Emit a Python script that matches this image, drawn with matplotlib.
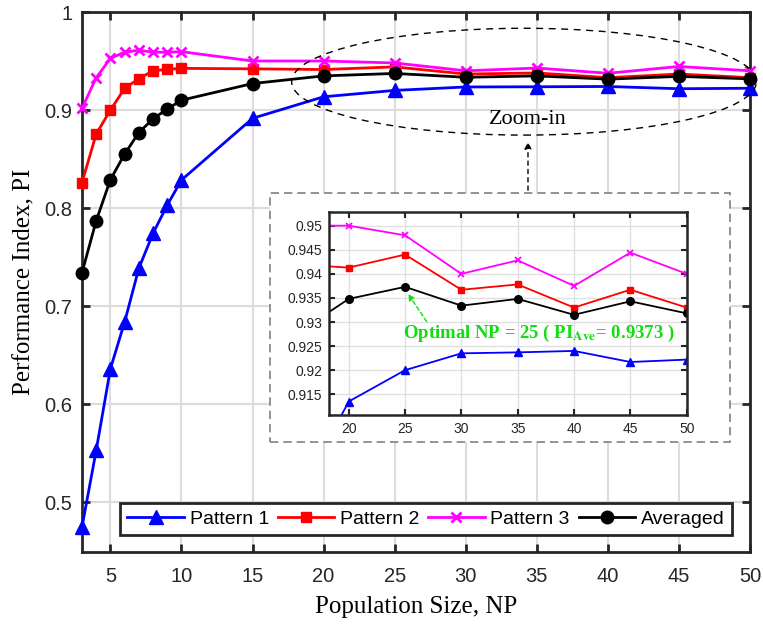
import matplotlib
matplotlib.use('Agg')
import matplotlib.pyplot as plt
from matplotlib.patches import Ellipse, Rectangle
from matplotlib.ticker import FuncFormatter

plt.rcParams['font.family'] = 'Liberation Sans'
plt.rcParams['mathtext.fontset'] = 'stix'

# data
np_sizes = [3, 4, 5, 6, 7, 8, 9, 10, 15, 20, 25, 30, 35, 40, 45, 50]
pattern1 = [0.4745, 0.5528, 0.636, 0.6837, 0.7385, 0.7742, 0.803, 0.8286, 0.8915,
            0.9135, 0.9200, 0.9235, 0.9237, 0.9240, 0.9217, 0.9222]
pattern2 = [0.826, 0.8755, 0.900, 0.922, 0.932, 0.940, 0.9415, 0.9425, 0.9420,
            0.9413, 0.9440, 0.9367, 0.9378, 0.9330, 0.9367, 0.9330]
pattern3 = [0.9017, 0.933, 0.9527, 0.959, 0.961, 0.959, 0.959, 0.9595, 0.9500,
            0.9500, 0.9480, 0.9400, 0.9428, 0.9375, 0.9444, 0.9400]
averaged = [0.734, 0.787, 0.829, 0.855, 0.877, 0.891, 0.901, 0.910, 0.927,
            0.9348, 0.9373, 0.9334, 0.9348, 0.9315, 0.9343, 0.9318]

labels = ['Pattern 1', 'Pattern 2', 'Pattern 3', 'Averaged']
series = [pattern1, pattern2, pattern3, averaged]
colors = ['#0000ff', '#ff0000', '#ff00ff', '#000000']
markers = ['^', 's', 'x', 'o']
big_sizes = [10, 7, 7, 9]
small_sizes = [6, 4.5, 4, 5.5]

fig = plt.figure(figsize=(7.63, 6.24), dpi=100)
ax = fig.add_axes([82 / 763, 1 - 552 / 624, 668 / 763, 540 / 624])

for y, lab, c, m, ms in zip(series, labels, colors, markers, big_sizes):
    ax.plot(np_sizes, y, color=c, marker=m, markersize=ms, linewidth=2,
            markeredgewidth=2 if m == 'x' else 1, label=lab, clip_on=False, zorder=3)

ax.set_xlim(3, 50)
ax.set_ylim(0.449, 1)
ax.set_xticks(range(5, 51, 5))
ax.set_yticks([0.5, 0.6, 0.7, 0.8, 0.9, 1.0])
ax.yaxis.set_major_formatter(FuncFormatter(lambda v, p: '%g' % round(v, 3)))
ax.grid(True, color='#dcdcdc', linewidth=1.5)
ax.set_axisbelow(True)
ax.tick_params(direction='in', length=6, width=2, top=True, right=True,
               labelsize=14.5, colors='#262626')
ax.tick_params(axis='x', pad=11)
ax.tick_params(axis='y', pad=7)
for s in ax.spines.values():
    s.set_linewidth(2)
    s.set_color('#262626')
ax.set_xlabel('Population Size, NP', family='Liberation Serif', fontsize=18, labelpad=7)
ax.set_ylabel('Performance Index, PI', family='Liberation Serif', fontsize=18, labelpad=6)

leg = ax.legend(loc='lower left', bbox_to_anchor=(0.057, 0.031), borderaxespad=0,
                ncol=4, fontsize=14, handlelength=2.9, columnspacing=0.45,
                handletextpad=0.3, borderpad=0.38, fancybox=False, framealpha=1)
leg.get_frame().set_edgecolor('#262626')
leg.get_frame().set_linewidth(2)

# zoom ellipse, label and arrow
ax.add_patch(Ellipse((34.1, 0.9289), 32.7, 0.109, fill=False, edgecolor='black',
                     linestyle=(0, (5, 4)), linewidth=1, clip_on=False, zorder=4))
ax.text(34.4, 0.8898, 'Zoom-in', family='Liberation Serif', fontsize=16,
        ha='center', va='center', zorder=4)
ax.annotate('', xy=(34.38, 0.8704), xytext=(34.38, 0.8153),
            arrowprops=dict(arrowstyle='-|>', linestyle=(0, (3, 3)), color='black',
                            linewidth=1, mutation_scale=10), zorder=4)

# dashed frame around the inset
ax.add_patch(Rectangle((270 / 763, 1 - 442 / 624), 460 / 763, 249 / 624,
                       transform=fig.transFigure, facecolor='white', edgecolor='#808080',
                       linestyle=(0, (5, 3)), linewidth=1.2, clip_on=False, zorder=5))

ins = fig.add_axes([329 / 763, 1 - 415 / 624, 357.7 / 763, 203.3 / 624])
for y, c, m, ms in zip(series, colors, markers, small_sizes):
    ins.plot(np_sizes, y, color=c, marker=m, markersize=ms, linewidth=1.3,
             markeredgewidth=1.3 if m == 'x' else 1)
ins.set_xlim(18.25, 50)
ins.set_ylim(0.9107, 0.9529)
ins.set_xticks(range(20, 51, 5))
ins.set_yticks([0.915, 0.92, 0.925, 0.93, 0.935, 0.94, 0.945, 0.95])
ins.yaxis.set_major_formatter(FuncFormatter(lambda v, p: '%g' % round(v, 4)))
ins.grid(True, color='#e0e0e0', linewidth=1)
ins.set_axisbelow(True)
ins.tick_params(direction='in', length=4, width=1.5, top=True, right=True,
                labelsize=10, colors='#262626', pad=5)
for s in ins.spines.values():
    s.set_linewidth(1.8)
    s.set_color('#262626')

ins.annotate('', xy=(25.14, 0.9363), xytext=(27.06, 0.9296),
             arrowprops=dict(arrowstyle='-|>', linestyle=(0, (3, 2)), color='#11dd11',
                             linewidth=1, mutation_scale=9))
ins.text(24.82, 0.9277, r'Optimal NP = 25 ( PI$_{\mathbf{Ave}}$= 0.9373 )',
         family='Liberation Serif', weight='bold', fontsize=13.5, color='#11dd11',
         ha='left', va='center')

fig.savefig('out.png', dpi=100)
